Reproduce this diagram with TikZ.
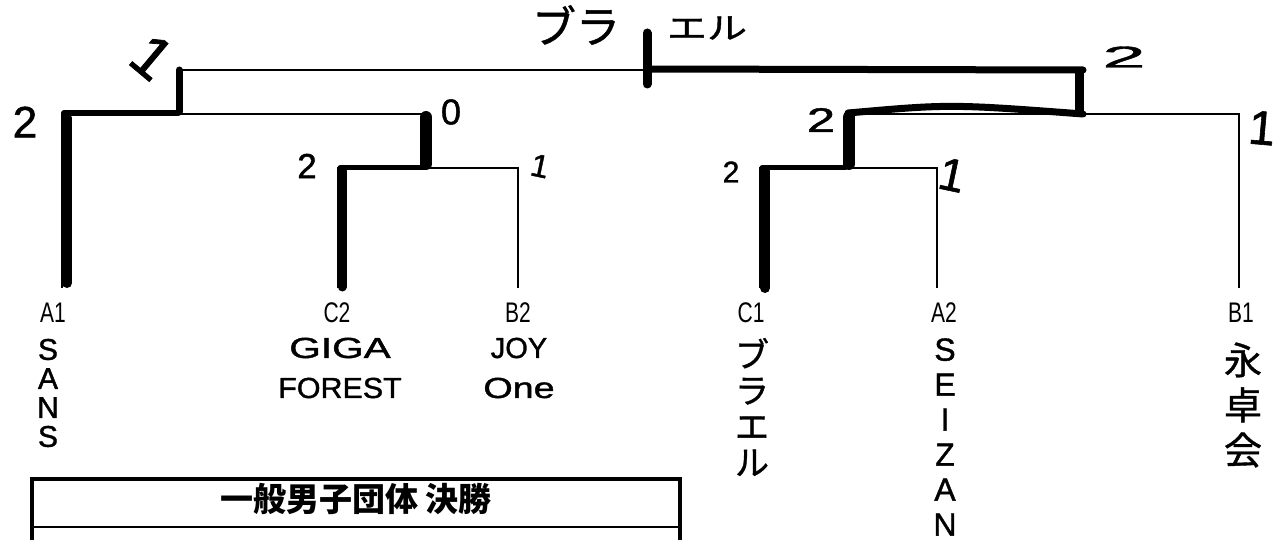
\documentclass[tikz,border=0pt]{standalone}
\usepackage{fontspec}
\setmainfont{Liberation Sans}
\newfontfamily\hand{Liberation Sans}[FakeBold=1.2]
\newfontfamily\jp{Noto Sans CJK JP}
\newfontfamily\jphand{Noto Sans CJK JP}[FakeBold=1]
\begin{document}
\begin{tikzpicture}[x=1pt,y=-1pt,
  bline/.style={line width=2.2pt},
  marker/.style={line width=#1, line cap=round},
  seed/.style={font=\fontsize{21}{21}\selectfont, inner sep=0pt},
  hw/.style={inner sep=0pt, align=center},
  score/.style={inner sep=0pt}]
\useasboundingbox[fill=white] (0,0) rectangle (1276,540);

% leaf tops and junctions
\coordinate (a1) at (62,288);
\coordinate (c2) at (338,288);
\coordinate (b2) at (518,288);
\coordinate (c1) at (760,288);
\coordinate (a2) at (937,288);
\coordinate (b1) at (1239,288);
\coordinate (m1) at (425,168);
\coordinate (m2) at (178,114);
\coordinate (m3) at (845,168);
\coordinate (m4) at (1083,114);
\coordinate (top) at (650,70);

% bracket lines
\draw[bline] (a1) |- (m1 |- m2) -- (m1);
\draw[bline] (c2) |- (b2 |- m1) -- (b2);
\draw[bline] (m2) |- (m4 |- top) -- (m4);
\draw[bline] (c1) |- (a2 |- m3) -- (a2);
\draw[bline] (m3) |- (b1 |- m4) -- (b1);

% winner marker strokes
\draw[marker=10pt] (67,118) -- (67,283);
\draw[marker=6pt] (64,113) -- (178,113);
\draw[marker=7pt] (179,70) -- (179,112);
\draw[marker=9pt] (342,171) -- (342,287);
\draw[marker=5pt] (340,168) -- (425,168);
\draw[marker=12pt] (426,117) -- (426,164);
\draw[marker=10pt] (765,171) -- (765,288);
\draw[marker=5pt] (762,168) -- (845,168);
\draw[marker=12pt] (849,117) -- (849,164);
\draw[marker=7pt] (848,113) .. controls (950,104) .. (1083,114);
\draw[marker=8pt] (1079,72) -- (1079,112);
\draw[marker=7pt] (650,69) -- (1083,70);
\draw[marker=9pt] (647,33) -- (647,84);

% seed labels
\node[seed] (A1) at (53,313) {\scalebox{1}[1.35]{A1}};
\node[seed] (C2) at (337,313) {\scalebox{1}[1.35]{C2}};
\node[seed] (B2) at (518,313) {\scalebox{1}[1.35]{B2}};
\node[seed] (C1) at (751,313) {\scalebox{1}[1.35]{C1}};
\node[seed] (A2) at (944,313) {\scalebox{1}[1.35]{A2}};
\node[seed] (B1) at (1241,313) {\scalebox{1}[1.35]{B1}};

% team names (handwritten)
\node[hw, font=\hand\fontsize{30}{29}\selectfont] (nA1) at (48,393) {S\\A\\N\\S};
\node[hw, font=\hand\fontsize{29}{40}\selectfont] (nC2) at (340,368) {\scalebox{1.4}[1]{GIGA}\\\scalebox{1.05}[1]{FOREST}};
\node[hw, font=\hand\fontsize{29}{40}\selectfont] (nB2) at (519,368) {JOY\\\scalebox{1.3}[1]{One}};
\node[hw, font=\jphand\fontsize{34}{36}\selectfont] (nC1) at (752,407) {ブ\\ラ\\エ\\ル};
\node[hw, font=\hand\fontsize{32}{35}\selectfont] (nA2) at (945,437) {S\\E\\I\\Z\\A\\N};
\node[hw, font=\jphand\fontsize{38}{45}\selectfont] (nB1) at (1243,405) {永\\卓\\会};

% winner name at top
\node[hw, font=\jphand\fontsize{44}{44}\selectfont] (w1) at (576,25) {ブラ};
\node[hw, font=\jphand\fontsize{40}{40}\selectfont] (w2) at (707,28) {\scalebox{1}[0.75]{エル}};

% scores
\node[score, font=\hand\fontsize{60}{60}\selectfont, rotate=-40] (s1) at (152,57) {1};
\node[score, font=\hand\fontsize{44}{44}\selectfont] (s2) at (25,122) {2};
\node[score, font=\hand\fontsize{36}{36}\selectfont] (s3) at (451,112) {0};
\node[score, font=\hand\fontsize{35}{35}\selectfont] (s4) at (307,166) {2};
\node[score, font=\hand\fontsize{32}{32}\selectfont, rotate=-12] (s5) at (540,166) {1};
\node[score, font=\hand\fontsize{30}{30}\selectfont] (s6) at (1124,57) {\scalebox{2.6}[1]{2}};
\node[score, font=\hand\fontsize{34}{34}\selectfont] (s7) at (821,120) {\scalebox{1.5}[1]{2}};
\node[score, font=\hand\fontsize{30}{30}\selectfont] (s8) at (731,172) {2};
\node[score, font=\hand\fontsize{46}{46}\selectfont, rotate=-12] (s9) at (952,175) {1};
\node[score, font=\hand\fontsize{48}{48}\selectfont, rotate=-5] (s10) at (1262,128) {1};

% title box
\draw[line width=4pt] (32,548) -- (32,479) -- (680,479) -- (680,548);
\draw[line width=2pt] (32,527) -- (680,527);
\node[inner sep=0pt, font=\jp\bfseries\fontsize{33}{33}\selectfont] (title) at (356,499) {一般男子団体 決勝};
\end{tikzpicture}
\end{document}
